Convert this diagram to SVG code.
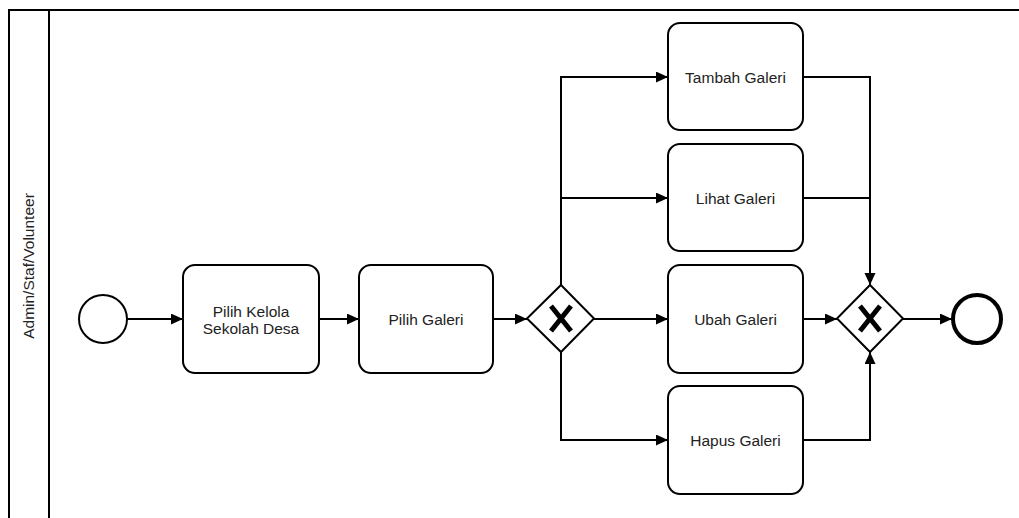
<svg xmlns="http://www.w3.org/2000/svg" width="1019" height="518" viewBox="0 0 1019 518">
<defs>
<marker id="arr" markerWidth="12" markerHeight="12" refX="12" refY="5.5" orient="auto" markerUnits="userSpaceOnUse">
<path d="M0,0 L12,5.5 L0,11 Z" fill="#000"/>
</marker>
<style>
.task{fill:#fff;stroke:#000;stroke-width:2}
.lbl{font-family:"Liberation Sans",Arial,sans-serif;font-size:15.5px;fill:#222;text-anchor:middle;dominant-baseline:central}
.edge{fill:none;stroke:#000;stroke-width:2;marker-end:url(#arr)}
.line{fill:none;stroke:#000;stroke-width:2}
.gw{fill:#fff;stroke:#000;stroke-width:2}
.x{stroke:#000;stroke-width:5;stroke-linecap:butt}
</style>
</defs>
<rect width="1019" height="518" fill="#fff"/>
<g id="pool">
<path d="M9,518 L9,10 L1019,10" class="line"/>
<line x1="49" y1="10" x2="49" y2="518" class="line"/>
<text class="lbl" transform="translate(28,266) rotate(-90)">Admin/Staf/Volunteer</text>
</g>
<g id="connectors">
<line x1="127" y1="319" x2="183" y2="319" class="edge"/>
<line x1="319" y1="319" x2="359" y2="319" class="edge"/>
<line x1="493" y1="319" x2="527" y2="319" class="edge"/>
<line x1="594" y1="319" x2="668" y2="319" class="edge"/>
<polyline points="561,285 561,77 668,77" class="edge"/>
<polyline points="561,198 668,198" class="edge"/>
<polyline points="561,352 561,440 668,440" class="edge"/>
<polyline points="803,77 870,77 870,285" class="edge"/>
<polyline points="803,198 870,198" class="line"/>
<polyline points="803,440 870,440 870,352" class="edge"/>
<line x1="803" y1="319" x2="837" y2="319" class="edge"/>
<line x1="903" y1="319" x2="952" y2="319" class="edge"/>
</g>
<g id="start"><circle cx="103" cy="319" r="24" fill="#fff" stroke="#000" stroke-width="2"/></g>
<g id="task1"><rect class="task" x="183" y="265" width="136" height="108" rx="12"/><text class="lbl" x="251" y="311">Pilih Kelola</text><text class="lbl" x="251" y="328">Sekolah Desa</text></g>
<g id="task2"><rect class="task" x="359" y="265" width="134" height="108" rx="12"/><text class="lbl" x="426" y="319">Pilih Galeri</text></g>
<g id="gw1"><polygon class="gw" points="561,285 594,318.5 561,352 527,318.5"/><line class="x" x1="551" y1="306" x2="571" y2="331"/><line class="x" x1="571" y1="306" x2="551" y2="331"/></g>
<g id="tambah"><rect class="task" x="668" y="23" width="135" height="107" rx="12"/><text class="lbl" x="735.5" y="77">Tambah Galeri</text></g>
<g id="lihat"><rect class="task" x="668" y="144" width="135" height="107" rx="12"/><text class="lbl" x="735.5" y="198">Lihat Galeri</text></g>
<g id="ubah"><rect class="task" x="668" y="265" width="135" height="108" rx="12"/><text class="lbl" x="735.5" y="319">Ubah Galeri</text></g>
<g id="hapus"><rect class="task" x="668" y="386" width="135" height="108" rx="12"/><text class="lbl" x="735.5" y="440">Hapus Galeri</text></g>
<g id="gw2"><polygon class="gw" points="870,285 903,318.5 870,352 837,318.5"/><line class="x" x1="860" y1="306" x2="880" y2="331"/><line class="x" x1="880" y1="306" x2="860" y2="331"/></g>
<g id="end"><circle cx="977" cy="319" r="24" fill="#fff" stroke="#000" stroke-width="4"/></g>
</svg>
